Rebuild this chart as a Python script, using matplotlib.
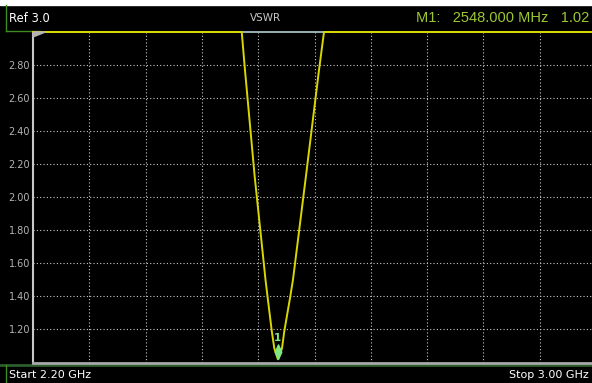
import numpy as np
import matplotlib.pyplot as plt
from matplotlib.path import Path
from matplotlib.patches import Rectangle, Polygon

# 扫频结果: 频率 (GHz) / 驻波比
freq = [2.20, 2.35, 2.45, 2.4966, 2.5012, 2.5149, 2.5304, 2.5335, 2.5393, 2.5429,
        2.5480, 2.5538, 2.5571, 2.5652, 2.5694, 2.5879, 2.6064, 2.6135, 2.65, 2.80, 3.00]
vswr = [9.5, 6.0, 3.9, 3.00, 2.77, 2.13, 1.50, 1.39, 1.19, 1.085,
        1.02, 1.085, 1.19, 1.39, 1.50, 2.13, 2.77, 3.00, 3.8, 7.0, 11.0]

ref_level = 3.0
f_start, f_stop = 2.20, 3.00
y_ticks = [1.20, 1.40, 1.60, 1.80, 2.00, 2.20, 2.40, 2.60, 2.80]
m1_freq = 2.548   # GHz
m1_vswr = 1.02

W, H = 592, 383
trace_col = '#d8d800'
green_txt = '#9cc832'

fig = plt.figure(figsize=(W / 100, H / 100), dpi=100, facecolor='black')

# 底层: 边框、标题栏 (像素坐标)
bg = fig.add_axes([0, 0, 1, 1])
bg.set_xlim(0, W)
bg.set_ylim(H, 0)
bg.axis('off')
bg.add_patch(Rectangle((0, 0), W, 5, color='white'))
bg.plot([6, 6], [5, 31], color='#3c8c1e', lw=1)
bg.plot([6, 40], [31, 31], color='#3c8c1e', lw=1)
bg.plot([0, W], [364.5, 364.5], color='#2c5e2c', lw=2)
bg.plot([6, 6], [365, H], color='#3c8c1e', lw=1)

bg.text(9, 18, 'Ref 3.0', color='white', fontsize=8.3, va='center', family='DejaVu Sans')
bg.text(265, 18, 'VSWR', color='#c8c8c8', fontsize=7.5, va='center', ha='center', family='DejaVu Sans')
bg.text(589, 18, 'M1:   %.3f MHz   %.2f' % (m1_freq * 1000, m1_vswr), color=green_txt,
        fontsize=10.5, va='center', ha='right', family='Liberation Sans')
bg.text(9, 375, 'Start %.2f GHz' % f_start, color='white', fontsize=8, va='center',
        family='DejaVu Sans')
bg.text(589, 375, 'Stop %.2f GHz' % f_stop, color='white', fontsize=8, va='center',
        ha='right', family='DejaVu Sans')

# 主图
x0, x1 = 33, 596
y0, y1 = 32, 362.5
ax = fig.add_axes([x0 / W, (H - y1) / H, (x1 - x0) / W, (y1 - y0) / H])
ax.set_facecolor('black')
ax.set_xlim(f_start, f_stop)
ax.set_ylim(1.0, ref_level)
ax.set_xticks(np.linspace(f_start, f_stop, 11)[1:-1])
ax.set_yticks(y_ticks)
ax.set_yticklabels(['%.2f' % v for v in y_ticks])
ax.tick_params(length=0, labelbottom=False, labelsize=7, labelcolor='#b4b4b4', pad=2)
ax.grid(color='#c8c8c8', linestyle=(0, (1, 2)), linewidth=0.8)
ax.spines['right'].set_visible(False)
ax.spines['top'].set_color('#b0d0d0')
ax.spines['top'].set_linewidth(1.2)
ax.spines['left'].set_color('#c8c8c8')
ax.spines['left'].set_linewidth(1.5)
ax.spines['bottom'].set_color('#a8a8a8')
ax.spines['bottom'].set_linewidth(2)

# 超出参考电平的部分压在顶线上
ax.plot(freq, np.minimum(vswr, ref_level), color=trace_col, lw=1.4, clip_on=False, zorder=5)

# 参考电平指示 (左右两端)
ax.add_patch(Polygon([(0, 1), (0.022, 1), (0, 0.985)], closed=True, transform=ax.transAxes,
                     color='#b4b4b4', clip_on=False, zorder=6))
bg.add_patch(Polygon([(584, 33), (592, 33), (592, 37)], closed=True, color='#b4b4b4', zorder=6))

# M1 标记
tip = Path([(0, 0), (-0.45, 1.0), (0, 2.0), (0.45, 1.0), (0, 0)],
           [Path.MOVETO, Path.LINETO, Path.LINETO, Path.LINETO, Path.CLOSEPOLY])
ax.plot([m1_freq], [m1_vswr], marker=tip, markersize=21, color='#80e880', zorder=7,
        clip_on=False)
ax.annotate('1', (m1_freq, m1_vswr), xytext=(0, 11.5), textcoords='offset points',
            ha='center', va='bottom', color='#80e880', fontsize=7.5, weight='bold', zorder=8)

fig.savefig('out.png', dpi=100, facecolor='black')
